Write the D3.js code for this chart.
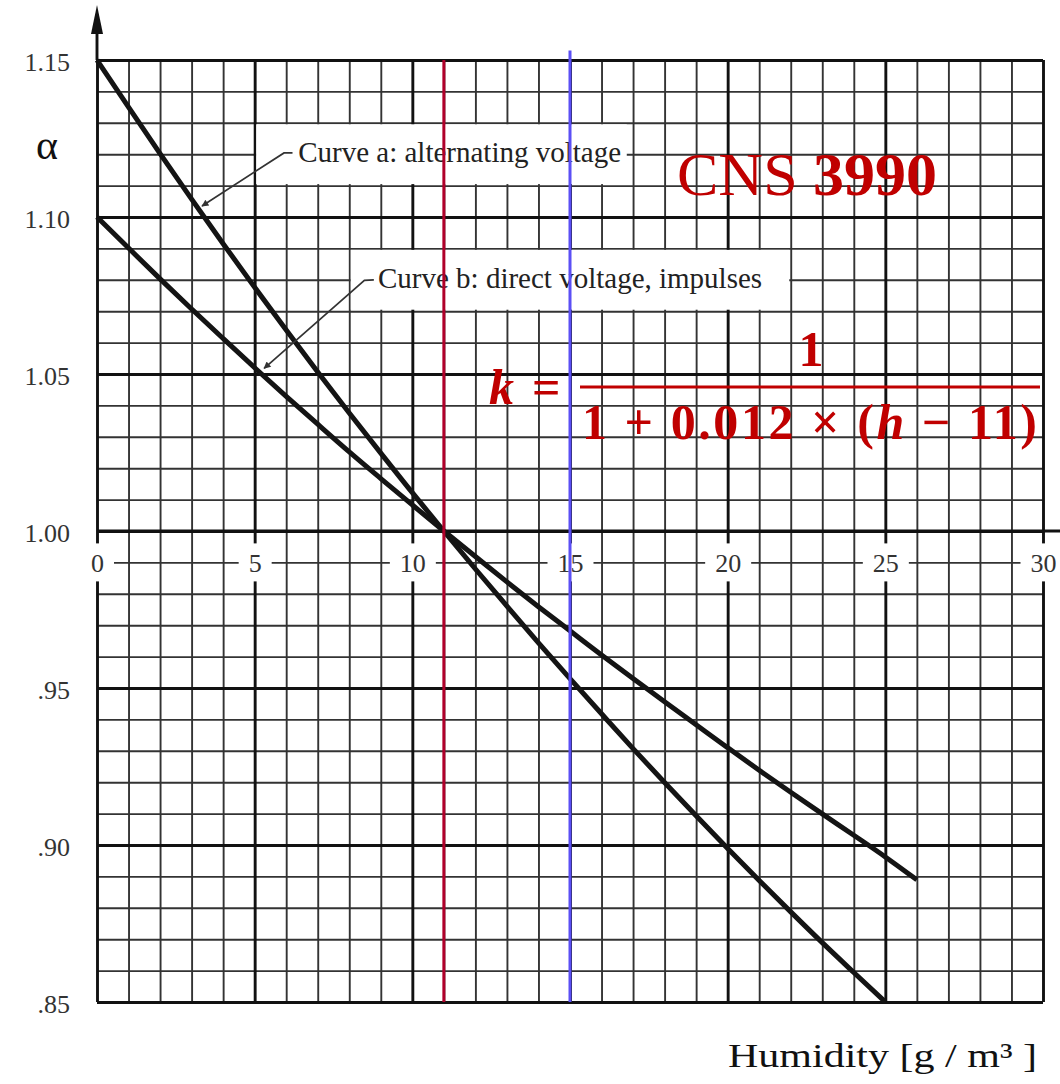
<!DOCTYPE html>
<html><head><meta charset="utf-8">
<script src="https://cdn.jsdelivr.net/npm/d3@7"></script>
<style>body{margin:0;background:#fff} svg{display:block}</style>
</head><body>
<svg id="c" width="1060" height="1084"></svg>
<script>
// ---- data ----
const humidityA = [0,1,2,3,4,5,6,7,8,9,10,11,12,13,14,15,16,17,18,19,20,21,22,23,24,25];
const alphaA = [1.1500,1.1350,1.1202,1.1057,1.0915,1.0776,1.0640,1.0506,1.0376,1.0248,1.0122,1.0000,0.9879,0.9761,0.9644,0.9530,0.9418,0.9307,0.9199,0.9093,0.8989,0.8887,0.8787,0.8689,0.8594,0.8500];
const humidityB = [0,1,2,3,4,5,6,7,8,9,10,11,12,13,14,15,16,17,18,19,20,21,22,23,24,25,26];
const alphaB = [1.1000,1.0901,1.0803,1.0707,1.0613,1.0520,1.0429,1.0340,1.0252,1.0167,1.0083,1.0000,0.9919,0.9838,0.9759,0.9682,0.9605,0.9530,0.9456,0.9383,0.9310,0.9238,0.9168,0.9099,0.9031,0.8962,0.8889];
const xTickValues = [0,5,10,15,20,25,30];
const xTickLabels = ["0","5","10","15","20","25","30"];
const yTickValues = [0.85,0.90,0.95,1.00,1.05,1.10,1.15];
const yTickLabels = [".85",".90",".95","1.00","1.05","1.10","1.15"];
const refHumidity = [11, 15];
const curveLabels = ["Curve a: alternating voltage", "Curve b: direct voltage, impulses"];

// ---- scales ----
const svg = d3.select("#c");
const x = d3.scaleLinear().domain([0,30]).range([97,1043]);
const y = d3.scaleLinear().domain([0.85,1.15]).range([1002,60]);
const serif = "'Liberation Serif','Times New Roman',serif";

// arrow markers
const defs = svg.append("defs");
defs.append("marker").attr("id","arr").attr("viewBox","0 0 10 10").attr("refX",9).attr("refY",5)
  .attr("markerWidth",11).attr("markerHeight",7).attr("markerUnits","userSpaceOnUse").attr("orient","auto")
  .append("path").attr("d","M0,0 L10,5 L0,10 z").attr("fill","#333");

// ---- grid via axes ----
const minorX = d3.range(0,31,1);
const minorY = d3.range(85,116,1).map(v=>v/100);
const gridW = x(30)-x(0), gridH = y(0.85)-y(1.15);

function styleGrid(g, major){
  g.select(".domain").remove();
  g.selectAll("line").attr("stroke", major ? "#111" : "#333").attr("stroke-width", major ? 2.9 : 1.9);
}
svg.append("g").attr("transform",`translate(0,${y(1.15)})`)
  .call(d3.axisBottom(x).tickValues(minorX.filter(v=>v%5)).tickSize(gridH).tickFormat(""))
  .call(g=>styleGrid(g,false));
svg.append("g").attr("transform",`translate(${x(0)},0)`)
  .call(d3.axisRight(y).tickValues(minorY.filter(v=>Math.round(v*100)%5)).tickSize(gridW).tickFormat(""))
  .call(g=>styleGrid(g,false));
svg.append("g").attr("transform",`translate(0,${y(1.15)})`)
  .call(d3.axisBottom(x).tickValues(xTickValues).tickSize(gridH).tickFormat(""))
  .call(g=>styleGrid(g,true));
svg.append("g").attr("transform",`translate(${x(0)},0)`)
  .call(d3.axisRight(y).tickValues(yTickValues).tickSize(gridW).tickFormat(""))
  .call(g=>styleGrid(g,true));

// x axis line extends to the edge at alpha = 1.00
svg.append("line").attr("x1",x(0)).attr("x2",1060).attr("y1",y(1)).attr("y2",y(1))
  .attr("stroke","#111").attr("stroke-width",2.9);
// y axis arrow
svg.append("line").attr("x1",x(0)).attr("x2",x(0)).attr("y1",y(1.15)).attr("y2",30)
  .attr("stroke","#111").attr("stroke-width",2.9);
svg.append("path").attr("d",`M${x(0)},5 L${x(0)-6},34 L${x(0)+6},34 Z`).attr("fill","#111");

// ---- curve label boxes ----
svg.append("rect").attr("x",x(5)+1.5).attr("y",y(1.13)+1.5)
  .attr("width",x(16.8)-x(5)-1.5).attr("height",y(1.11)-y(1.13)-3).attr("fill","#fff");
svg.append("rect").attr("x",x(8)+1.5).attr("y",y(1.09)+1.5)
  .attr("width",x(22)-x(8)-3).attr("height",y(1.07)-y(1.09)-3).attr("fill","#fff");

// ---- tick labels ----
const yAx = svg.append("g").attr("transform",`translate(${x(0)},0)`)
  .call(d3.axisLeft(y).tickValues(yTickValues).tickSize(0).tickPadding(27)
    .tickFormat((d,i)=>yTickLabels[i]));
yAx.attr("font-family",serif);
yAx.select(".domain").remove();
yAx.selectAll("text").attr("font-family",serif).attr("font-size",26).attr("fill","#333").attr("dy","0.40em");

const xAx = svg.append("g").attr("transform",`translate(0,${y(0.99)})`)
  .call(d3.axisBottom(x).tickValues(xTickValues).tickSize(0).tickPadding(0)
    .tickFormat((d,i)=>xTickLabels[i]));
xAx.attr("font-family",serif);
xAx.select(".domain").remove();
xAx.selectAll("text").attr("font-family",serif).attr("font-size",26).attr("fill","#333")
  .attr("y",0).attr("dy","0.36em");
xAx.selectAll(".tick").each(function(){
  const t = d3.select(this).select("text");
  const bb = t.node().getBBox();
  d3.select(this).insert("rect","text").attr("x",-bb.width/2-10).attr("y",-19)
    .attr("width",bb.width+20).attr("height",38).attr("fill","#fff");
});

// ---- curves ----
const line = d3.line().x(d=>x(d[0])).y(d=>y(d[1])).curve(d3.curveMonotoneX);
svg.append("path").datum(humidityA.map((h,i)=>[h,alphaA[i]])).attr("d",line)
  .attr("fill","none").attr("stroke","#141414").attr("stroke-width",5);
svg.append("path").datum(humidityB.map((h,i)=>[h,alphaB[i]])).attr("d",line)
  .attr("fill","none").attr("stroke","#141414").attr("stroke-width",5);

// ---- leaders ----
const lin = d3.line().x(d=>x(d[0])).y(d=>y(d[1]));
svg.append("path").attr("d",lin([[6.2,1.1204],[5.93,1.1204],[3.33,1.1035]]))
  .attr("fill","none").attr("stroke","#333").attr("stroke-width",1.7).attr("marker-end","url(#arr)");
svg.append("path").attr("d",lin([[8.78,1.0800],[8.48,1.0798],[5.3,1.0518]]))
  .attr("fill","none").attr("stroke","#333").attr("stroke-width",1.7).attr("marker-end","url(#arr)");

// ---- curve labels ----
svg.append("text").attr("x",x(6.38)).attr("y",y(1.1175)).text(curveLabels[0])
  .attr("font-family",serif).attr("font-size",29).attr("fill","#222");
svg.append("text").attr("x",x(8.91)).attr("y",y(1.0774)).text(curveLabels[1])
  .attr("font-family",serif).attr("font-size",29).attr("fill","#222");

// ---- reference lines ----
svg.append("line").attr("x1",x(refHumidity[0])).attr("x2",x(refHumidity[0])).attr("y1",y(1.15)).attr("y2",y(0.85))
  .attr("stroke","#b0002a").attr("stroke-width",3);
svg.append("line").attr("x1",x(refHumidity[1])).attr("x2",x(refHumidity[1])).attr("y1",y(1.153)).attr("y2",y(0.85))
  .attr("stroke","#5b4ff5").attr("stroke-width",3);

// ---- titles ----
svg.append("text").attr("x",47).attr("y",159).attr("text-anchor","middle").text("α")
  .attr("font-family",serif).attr("font-size",42).attr("fill","#111");
svg.append("text").attr("x",728).attr("y",1067).text("Humidity [g / m³ ]")
  .attr("font-family",serif).attr("font-size",33).attr("fill","#111")
  .attr("textLength",309).attr("lengthAdjust","spacingAndGlyphs");

const cns = svg.append("text").attr("x",677).attr("y",195)
  .attr("font-family",serif).attr("font-size",62).attr("fill","#c00000");
cns.append("tspan").text("CNS ");
cns.append("tspan").attr("font-weight","bold").text("3990");

// formula
const red = "#c00000";
svg.append("text").attr("x",489).attr("y",404).text("k")
  .attr("font-family",serif).attr("font-size",50).attr("font-weight","bold").attr("font-style","italic").attr("fill",red);
svg.append("text").attr("x",532).attr("y",404).text("=")
  .attr("font-family",serif).attr("font-size",50).attr("font-weight","bold").attr("fill",red);
svg.append("text").attr("x",811).attr("y",366).attr("text-anchor","middle").text("1")
  .attr("font-family",serif).attr("font-size",50).attr("font-weight","bold").attr("fill",red);
svg.append("line").attr("x1",580).attr("x2",1040).attr("y1",387).attr("y2",387)
  .attr("stroke",red).attr("stroke-width",3);
const den = svg.append("text").attr("x",582).attr("y",439)
  .attr("font-family",serif).attr("font-size",50).attr("font-weight","bold").attr("fill",red)
  .attr("textLength",455).attr("lengthAdjust","spacing");
den.append("tspan").text("1 + 0.012 × (");
den.append("tspan").attr("font-style","italic").text("h");
den.append("tspan").text(" − 11)");
</script>
</body></html>
